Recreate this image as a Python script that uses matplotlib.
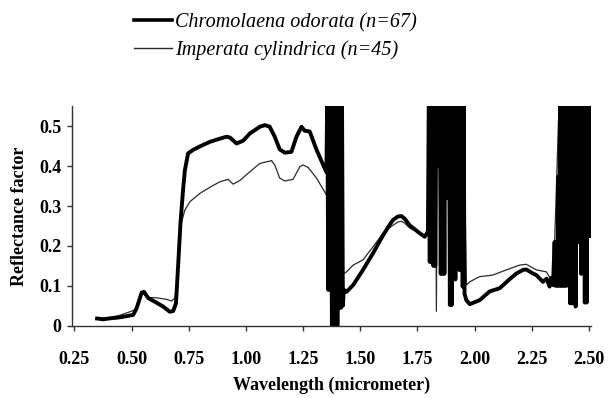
import matplotlib
matplotlib.use("Agg")
import matplotlib.pyplot as plt
from matplotlib.lines import Line2D

plt.rcParams['font.family'] = ['Liberation Serif', 'DejaVu Serif']
plt.rcParams['path.simplify'] = False

# ---- data: Chromolaena odorata (thick) ----
chrom_x = [0.349, 0.376, 0.400, 0.449, 0.507, 0.522, 0.544, 0.554, 0.573, 0.602, 0.638, 0.667,
           0.682, 0.694, 0.704, 0.714, 0.725, 0.733, 0.747, 0.769, 0.800, 0.842, 0.880, 0.915,
           0.930, 0.959, 0.988, 1.017, 1.061, 1.083, 1.104, 1.126, 1.148, 1.170, 1.199, 1.221,
           1.243, 1.257, 1.279, 1.309, 1.352,
           # water band 1
           1.356, 1.360, 1.364, 1.368, 1.372, 1.376, 1.380, 1.384, 1.388, 1.392, 1.396, 1.400,
           1.404, 1.408, 1.412, 1.416, 1.420, 1.424,
           1.428, 1.440, 1.469, 1.512, 1.556, 1.600, 1.625, 1.643, 1.665, 1.680, 1.695, 1.716,
           1.760, 1.782, 1.796,
           # water band 2
           1.800, 1.804, 1.808, 1.812, 1.816, 1.820, 1.824, 1.828, 1.832, 1.836, 1.840, 1.844,
           1.848, 1.852, 1.856, 1.860, 1.864, 1.868, 1.872, 1.876, 1.880, 1.884, 1.888, 1.892,
           1.896, 1.900, 1.904, 1.908, 1.912, 1.916, 1.920, 1.924, 1.928, 1.932, 1.936, 1.940,
           1.944, 1.948, 1.952, 1.956,
           1.964, 1.979, 2.022, 2.066, 2.110, 2.150, 2.183, 2.212, 2.226, 2.255, 2.270, 2.299,
           2.315, 2.328, 2.336, 2.343,
           # water band 3
           2.350, 2.354, 2.358, 2.362, 2.366, 2.370, 2.374, 2.378, 2.382, 2.386, 2.390, 2.394,
           2.398, 2.402, 2.406, 2.410, 2.414, 2.418, 2.422, 2.426, 2.430, 2.434, 2.438, 2.442,
           2.446, 2.450, 2.454, 2.458, 2.462, 2.466, 2.470, 2.474, 2.478, 2.482, 2.486, 2.490,
           2.494, 2.498, 2.502, 2.506]
chrom_y = [0.018, 0.016, 0.018, 0.021, 0.027, 0.044, 0.083, 0.085, 0.069, 0.060, 0.048, 0.035,
           0.037, 0.056, 0.156, 0.260, 0.340, 0.390, 0.432, 0.441, 0.450, 0.461, 0.468, 0.474,
           0.472, 0.457, 0.464, 0.482, 0.499, 0.503, 0.499, 0.474, 0.442, 0.434, 0.436, 0.474,
           0.499, 0.489, 0.487, 0.441, 0.385,
           0.60, 0.09, 0.60, 0.09, 0.60, 0.00, 0.60, -0.01, 0.60, -0.01, 0.60, 0.00,
           0.60, 0.045, 0.60, 0.045, 0.60, 0.05,
           0.090, 0.085, 0.102, 0.140, 0.182, 0.227, 0.250, 0.265, 0.274, 0.275, 0.268, 0.252,
           0.232, 0.223, 0.235,
           0.60, 0.16, 0.60, 0.16, 0.60, 0.15, 0.60, 0.15, 0.60, 0.40, 0.60, 0.40,
           0.60, 0.13, 0.60, 0.13, 0.60, 0.13, 0.60, 0.32, 0.60, 0.32, 0.60, 0.052,
           0.60, 0.052, 0.60, 0.28, 0.60, 0.116, 0.60, 0.27, 0.60, 0.14, 0.60, 0.14,
           0.60, 0.098, 0.60, 0.08,
           0.064, 0.054, 0.064, 0.086, 0.094, 0.115, 0.131, 0.140, 0.141, 0.131, 0.127, 0.110,
           0.118, 0.098, 0.120, 0.102,
           0.21, 0.10, 0.21, 0.10, 0.374, 0.10, 0.60, 0.10, 0.60, 0.10, 0.60, 0.10,
           0.60, 0.10, 0.60, 0.31, 0.60, 0.056, 0.60, 0.056, 0.60, 0.35, 0.60, 0.048,
           0.60, 0.21, 0.60, 0.21, 0.60, 0.13, 0.60, 0.25, 0.60, 0.058, 0.60, 0.058,
           0.60, 0.225, 0.60, 0.225]

# ---- data: Imperata cylindrica (thin) ----
imp_x = [0.349, 0.400, 0.449, 0.493, 0.515, 0.530, 0.544, 0.552, 0.566, 0.609, 0.653, 0.675,
         0.690, 0.700, 0.705, 0.711, 0.733, 0.755, 0.799, 0.842, 0.886, 0.922, 0.944, 0.973,
         1.017, 1.061, 1.112, 1.126, 1.148, 1.170, 1.206, 1.236, 1.250, 1.272, 1.309, 1.352,
         1.358, 1.390, 1.420, 1.426, 1.440, 1.469, 1.512, 1.556, 1.600, 1.625, 1.643, 1.665,
         1.680, 1.695, 1.716, 1.760, 1.782, 1.796, 1.806, 1.828, 1.833, 1.838, 1.950, 1.964,
         1.979, 2.008, 2.022, 2.080, 2.139, 2.197, 2.226, 2.270, 2.314, 2.330, 2.345, 2.372,
         2.500]
imp_y = [0.018, 0.020, 0.026, 0.035, 0.040, 0.060, 0.080, 0.081, 0.071, 0.070, 0.066, 0.062,
         0.070, 0.120, 0.200, 0.244, 0.290, 0.311, 0.332, 0.347, 0.361, 0.367, 0.355, 0.364,
         0.386, 0.407, 0.414, 0.403, 0.370, 0.363, 0.367, 0.399, 0.403, 0.397, 0.370, 0.328,
         0.60, 0.00, 0.60, 0.130, 0.135, 0.152, 0.165, 0.198, 0.232, 0.244, 0.252, 0.260,
         0.262, 0.257, 0.245, 0.232, 0.228, 0.245, 0.60, 0.60, 0.035, 0.60, 0.60, 0.102,
         0.110, 0.119, 0.123, 0.127, 0.140, 0.152, 0.154, 0.140, 0.135, 0.120, 0.118, 0.60,
         0.60]

labels = ["Chromolaena odorata (n=67)", "Imperata cylindrica (n=45)"]
x_ticks = [0.25, 0.50, 0.75, 1.00, 1.25, 1.50, 1.75, 2.00, 2.25, 2.50]
x_tick_labels = ["0.25", "0.50", "0.75", "1.00", "1.25", "1.50", "1.75", "2.00", "2.25", "2.50"]
y_ticks = [0, 0.1, 0.2, 0.3, 0.4, 0.5]
y_tick_labels = ["0", "0.1", "0.2", "0.3", "0.4", "0.5"]

W, H = 608, 398
fig = plt.figure(figsize=(W / 100, H / 100), dpi=100)
ax = fig.add_axes([71.7 / W, 1 - 325.7 / H, (590.5 - 71.7) / W, (325.7 - 106.4) / H])

ax.plot(imp_x, imp_y, color='#2a2a2a', lw=0.9, solid_joinstyle='miter')
ax.plot(chrom_x, chrom_y, color='black', lw=2.8, solid_joinstyle='round')

ax.set_xlim(0.238, 2.507)
ax.set_ylim(0, 0.55)
ax.set_xticks(x_ticks)
ax.set_xticklabels(x_tick_labels)
ax.set_yticks(y_ticks)
ax.set_yticklabels(y_tick_labels)
for s in ['top', 'right']:
    ax.spines[s].set_visible(False)
for s in ['left', 'bottom']:
    ax.spines[s].set_color('#333333')
    ax.spines[s].set_linewidth(1.0)
ax.tick_params(axis='x', direction='out', length=3.5, width=1.0, color='#333333', pad=15,
               labelsize=13)
ax.tick_params(axis='y', direction='out', length=3.5, width=1.0, color='#333333', pad=4,
               labelsize=13)
for lab in ax.get_xticklabels() + ax.get_yticklabels():
    lab.set_fontweight('bold')

ax.set_xlabel("Wavelength (micrometer)", fontsize=13, fontweight='bold', labelpad=6)
ax.set_ylabel("Reflectance factor", fontsize=13, fontweight='bold', labelpad=8)

handles = [Line2D([], [], color='black', lw=2.6), Line2D([], [], color='#2a2a2a', lw=1.0)]
fig.legend(handles, labels, loc='upper left', bbox_to_anchor=(120 / W, 1 + 1 / H),
           frameon=False, prop={'family': 'Liberation Serif', 'style': 'italic', 'size': 14.5},
           handlelength=1.9, handletextpad=0.15, labelspacing=0.38, borderpad=0.2)

fig.savefig("out.png", dpi=100)
